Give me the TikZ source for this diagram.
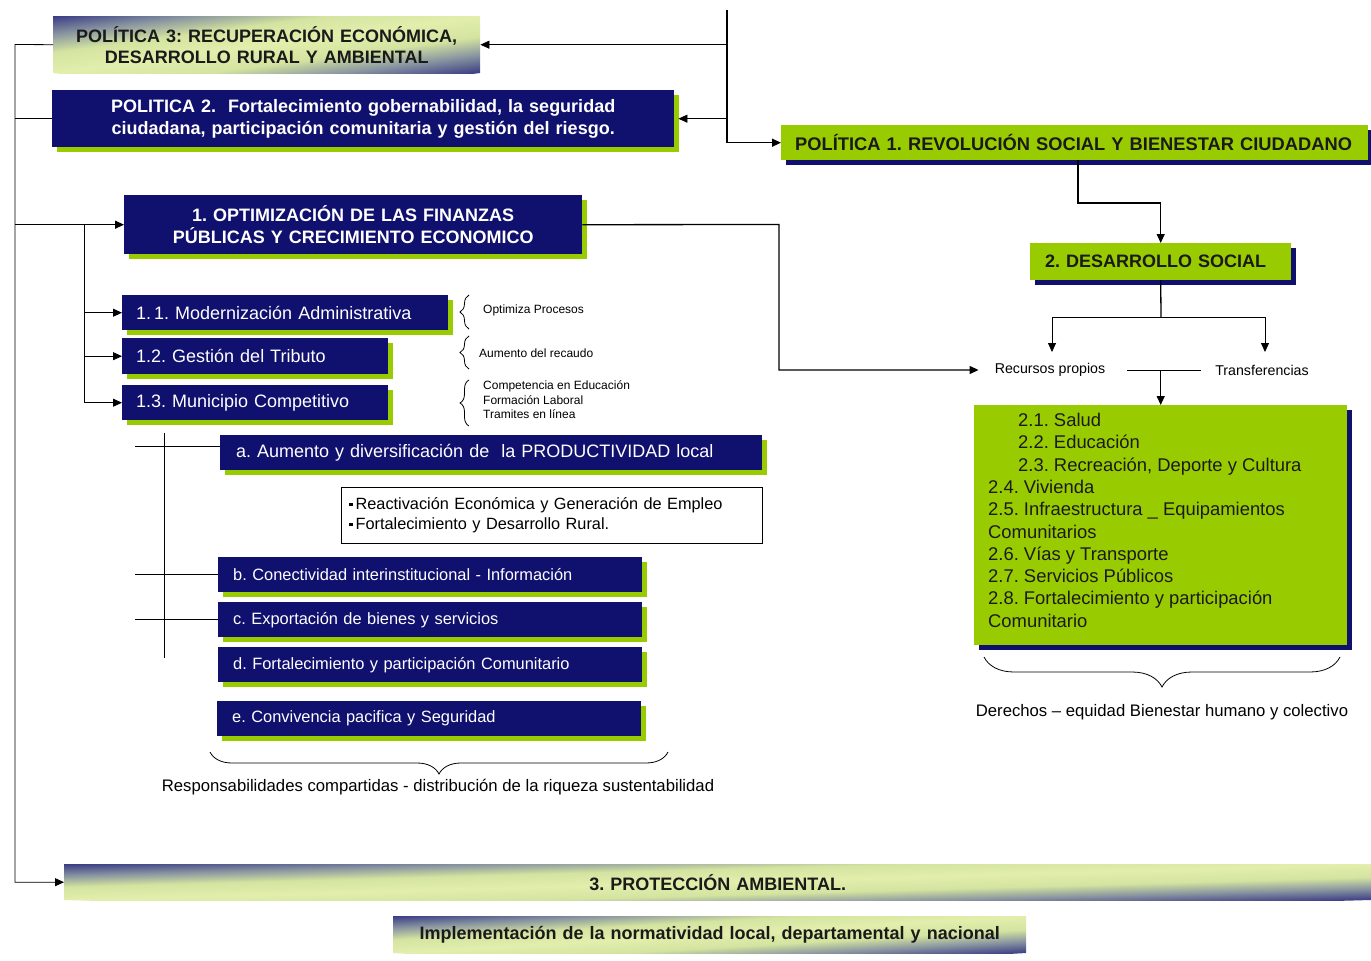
\documentclass[tikz,border=0pt]{standalone}
\usepackage{fontspec}
\setmainfont{Liberation Sans}
\usetikzlibrary{arrows.meta,shadows,decorations.pathreplacing}
\definecolor{nv}{HTML}{10106E}
\definecolor{gr}{HTML}{99CC00}
\definecolor{dk}{HTML}{1A1A1A}
\definecolor{gA}{HTML}{3A3C84}
\definecolor{gB}{HTML}{8894A0}
\definecolor{gC}{HTML}{D4E4A0}
\definecolor{gE}{HTML}{E2EEAC}
\pgfdeclarehorizontalshading{gradgb}{100bp}{color(0bp)=(gA); color(25bp)=(gA); color(33bp)=(gB); color(41bp)=(gC); color(50bp)=(gE); color(59bp)=(gC); color(67bp)=(gB); color(75bp)=(gA); color(100bp)=(gA)}
\newcommand{\sqb}{\rule[3.5pt]{3.5pt}{3.5pt}\,}
% diagonal gradient rectangle: centre x, centre y, width, height
\newcommand{\gradrect}[4]{%
  \begin{scope}[transform canvas={shift={(#1,#2)}, xscale=#3/50, yscale=#4/50}]
    \clip (-25pt,-25pt) rectangle (25pt,25pt);
    \begin{scope}[transform canvas={rotate=-45}]
      \shade[shading=gradgb] (-35.36pt,-35.36pt) rectangle (35.36pt,35.36pt);
    \end{scope}
  \end{scope}}
\tikzset{
  navybox/.style={fill=nv, text=white, anchor=north west, inner ysep=0pt,
    drop shadow={shadow xshift=5pt,shadow yshift=-5pt,fill=gr,opacity=1}},
  greenbox/.style={fill=gr, text=dk, anchor=north west, inner ysep=0pt,
    drop shadow={shadow xshift=5pt,shadow yshift=-5pt,fill=nv,opacity=1}},
  gradbox/.style={text=dk, anchor=north west, inner ysep=0pt},
  bfont/.style={font=\bfseries\fontsize{18}{22}\selectfont},
  thinl/.style={line width=0.8pt},
  medl/.style={line width=1.3pt},
  arr/.style={-{Triangle[length=9pt,width=8pt]}},
  brc/.style={decorate, decoration={brace, amplitude=#1}, line width=0.8pt},
  small/.style={font=\fontsize{12}{14}\selectfont, anchor=west, inner sep=0pt},
}
\begin{document}
\frenchspacing
\begin{tikzpicture}[x=1pt,y=-1pt]
\useasboundingbox (0,0) rectangle (1371,961);
% ---- gradient backgrounds
\gradrect{266.5}{44.5}{427}{57}
\gradrect{717.5}{882}{1307}{36}
\gradrect{709.5}{934.5}{633}{37}
% ---- top policies
\node[gradbox, minimum width=427pt, minimum height=57pt, text width=427pt, inner xsep=0pt, align=center,
  font=\bfseries\fontsize{18}{21}\selectfont] (p3) at (53,16)
  {POLÍTICA 3: RECUPERACIÓN ECONÓMICA,\\DESARROLLO RURAL Y AMBIENTAL};
\node[navybox, bfont, minimum width=622pt, minimum height=57pt, text width=622pt, inner xsep=0pt, align=center] (p2) at (52,90)
  {POLITICA 2.\ \ Fortalecimiento gobernabilidad, la seguridad\\ciudadana, participación comunitaria y gestión del riesgo.};
\node[greenbox, minimum width=587pt, minimum height=35pt, text width=559pt, inner xsep=14pt, align=left,
  font=\bfseries\fontsize{18.3}{22}\selectfont] (p1) at (781,125)
  {POLÍTICA 1. REVOLUCIÓN SOCIAL Y BIENESTAR CIUDADANO};
% ---- optimizacion
\node[navybox, bfont, minimum width=458pt, minimum height=59pt, text width=458pt, inner xsep=0pt, align=center] (b1) at (124,195)
  {1. OPTIMIZACIÓN DE LAS FINANZAS\\PÚBLICAS Y CRECIMIENTO ECONOMICO};
\node[navybox, minimum width=326pt, minimum height=35pt, text width=298pt, inner xsep=14pt, align=left,
  font=\fontsize{18}{21}\selectfont] (b11) at (122,295) {1.\,1. Modernización Administrativa};
\node[navybox, minimum width=266pt, minimum height=36pt, text width=238pt, inner xsep=14pt, align=left,
  font=\fontsize{18}{21}\selectfont] (b12) at (122,338) {1.2. Gestión del Tributo};
\node[navybox, minimum width=266pt, minimum height=35pt, text width=238pt, inner xsep=14pt, align=left,
  font=\fontsize{18}{21}\selectfont] (b13) at (122,385) {1.3. Municipio Competitivo};
% braces + small texts
\draw[brc=9pt] (469,329) -- (469,295);
\draw[brc=9pt] (469,369) -- (469,336);
\draw[brc=9pt] (469,426) -- (469,380);
\node[small] (s1) at (483,310) {Optimiza Procesos};
\node[small] (s2) at (479,353) {Aumento del recaudo};
\node[small] (s3) at (483,386) {Competencia en Educación};
\node[small] (s4) at (483,400) {Formación Laboral};
\node[small] (s5) at (483,414) {Tramites en línea};
% a..e
\node[navybox, minimum width=542pt, minimum height=35pt, text width=510pt, inner xsep=16pt, align=left,
  font=\fontsize{18}{21}\selectfont] (ba) at (220,435) {a. Aumento y diversificación de\ \ la PRODUCTIVIDAD local};
\node[draw=black, thinl, fill=white, anchor=north west, minimum width=421pt, minimum height=56pt,
  text width=405pt, inner xsep=8pt, inner ysep=0pt, align=left, font=\fontsize{16.3}{20}\selectfont] (bl) at (341,487)
  {\sqb Reactivación Económica y Generación de Empleo\\
   \sqb Fortalecimiento y Desarrollo Rural.};
\node[navybox, minimum width=424pt, minimum height=35pt, text width=394pt, inner xsep=15pt, align=left,
  font=\fontsize{16.4}{19}\selectfont] (bb) at (218,557) {b. Conectividad interinstitucional - Información};
\node[navybox, minimum width=424pt, minimum height=35pt, text width=394pt, inner xsep=15pt, align=left,
  font=\fontsize{16.4}{19}\selectfont] (bc) at (218,602) {c. Exportación de bienes y servicios};
\node[navybox, minimum width=424pt, minimum height=35pt, text width=394pt, inner xsep=15pt, align=left,
  font=\fontsize{16.4}{19}\selectfont] (bd) at (218,647) {d. Fortalecimiento y participación Comunitario};
\node[navybox, minimum width=424pt, minimum height=35pt, text width=394pt, inner xsep=15pt, align=left,
  font=\fontsize{16.4}{19}\selectfont] (be) at (217,701) {e. Convivencia pacifica y Seguridad};
\draw[brc=22pt] (668,752) -- (210,752);
\node[font=\fontsize{16.7}{19}\selectfont] (resp) at (438,787)
  {Responsabilidades compartidas - distribución de la riqueza sustentabilidad};
% ---- desarrollo social
\node[greenbox, bfont, minimum width=261pt, minimum height=37pt, text width=231pt, inner xsep=15pt, align=left] (ds) at (1030,243) {2. DESARROLLO SOCIAL};
\node[font=\fontsize{14.2}{16}\selectfont, inner sep=2pt] (rp) at (1050,370) {Recursos propios};
\node[font=\fontsize{14.2}{16}\selectfont, inner sep=2pt] (tr) at (1262,370) {Transferencias};
\node[greenbox, minimum width=373pt, minimum height=240pt] (big) at (974,405) {};
\node[anchor=north west, inner sep=0pt, text=dk, align=left, font=\fontsize{18.4}{22.3}\selectfont] (bigt) at (988,413)
  {\hspace*{30pt}2.1. Salud\\
   \hspace*{30pt}2.2. Educación\\
   \hspace*{30pt}2.3. Recreación, Deporte y Cultura\\
   2.4. Vivienda\\
   2.5. Infraestructura \_ Equipamientos\\
   Comunitarios\\
   2.6. Vías y Transporte\\
   2.7. Servicios Públicos\\
   2.8. Fortalecimiento y participación\\
   Comunitario};
\draw[brc=30pt] (1340,657) -- (984,657);
\node[font=\fontsize{16.7}{19}\selectfont] (der) at (1162,712) {Derechos – equidad Bienestar humano y colectivo};
% ---- bottom
\node[gradbox, bfont, minimum width=1307pt, minimum height=36pt, text width=1307pt, inner xsep=0pt, align=center] (pa) at (64,864) {3. PROTECCIÓN AMBIENTAL.};
\node[gradbox, bfont, minimum width=633pt, minimum height=37pt, text width=633pt, inner xsep=0pt, align=center] (imp) at (393,916)
  {Implementación de la normatividad local, departamental y nacional};
% ---- connectors
\coordinate (t0) at (727,10);
\coordinate (L0) at (15,44.5);
\draw[medl, arr] (t0) |- (p1.west);
\draw[thinl, arr] (t0 |- p3.east) -- (p3.east);
\draw[thinl, arr] (t0 |- p2.east) -- ([xshift=4pt]p2.east);
\draw[thinl, arr] (p3.west) -- (L0) |- (pa.west);
\draw[thinl] (p2.west) -- (p2.west -| L0);
\draw[medl, arr] (b1.west -| L0) -- (b1.west);
\coordinate (S0) at (84,224.5);
\draw[thinl] (S0) -- (S0 |- b13.west);
\draw[thinl, arr] (b11.west -| S0) -- (b11.west);
\draw[thinl, arr] (b12.west -| S0) -- (b12.west);
\draw[thinl, arr] (b13.west -| S0) -- (b13.west);
\coordinate (V0) at (164,433);
\coordinate (V1) at (164,658);
\draw[thinl] (V0) -- (V1);
\draw[thinl] ([yshift=6.5pt]ba.west) -- +(-85,0);
\draw[medl] (bb.west) -- +(-83,0);
\draw[thinl] (bc.west) -- +(-83,0);
\coordinate (k1) at (779,224.5);
\draw[medl, arr] (b1.east) -- (k1) |- ([xshift=-14pt]rp.west);
\coordinate (q1) at (1078,203);
\draw[medl, arr] (p1.south -| q1) -- (q1) -| (ds.north);
\coordinate (q2) at (1161,317);
\coordinate (q3) at (1052,317);
\coordinate (q4) at (1265,317);
\draw[medl] (ds.south) -- (q2);
\draw[thinl] (q3) -- (q4);
\draw[thinl, arr] (q3) -- (1052,352);
\draw[thinl, arr] (q4) -- (1265,352);
\draw[thinl] ([xshift=20pt]rp.east) -- ([xshift=-12pt]tr.west);
\draw[medl, arr] (rp.east -| big.north) -- (big.north);
\end{tikzpicture}
\end{document}
